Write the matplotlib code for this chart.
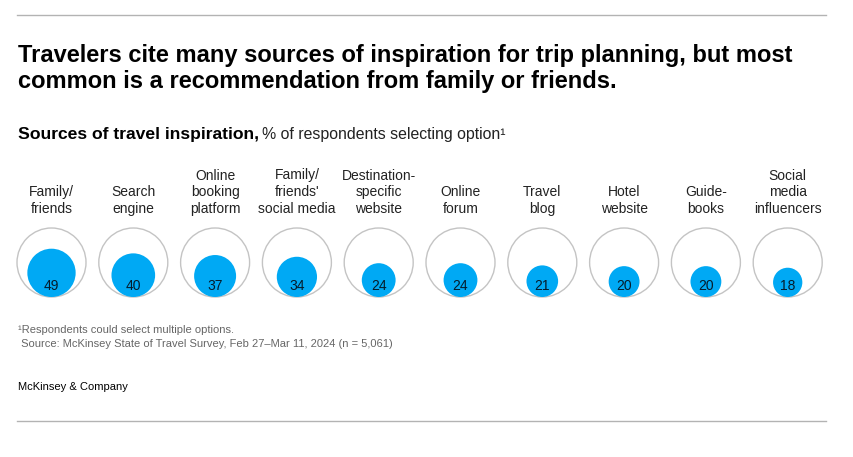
import numpy as np
import matplotlib.pyplot as plt
import matplotlib.patches as mpatches

plt.rcParams['font.family'] = ['Liberation Sans', 'DejaVu Sans']

categories = ['Family/\nfriends', 'Search\nengine', 'Online\nbooking\nplatform',
              "Family/\nfriends'\nsocial media", 'Destination-\nspecific\nwebsite',
              'Online\nforum', 'Travel\nblog', 'Hotel\nwebsite', 'Guide-\nbooks',
              'Social\nmedia\ninfluencers']
values = [49, 40, 37, 34, 24, 24, 21, 20, 20, 18]

title_lines = ['Travelers cite many sources of inspiration for trip planning, but most',
               'common is a recommendation from family or friends.']
sub_bold = 'Sources of travel inspiration,'
sub_rest = '% of respondents selecting option¹'
footnote = '¹Respondents could select multiple options.'
source = ' Source: McKinsey State of Travel Survey, Feb 27\u2013Mar 11, 2024 (n = 5,061)'

blue = '#00a9f4'
navy = '#051c2c'

W, H = 854, 457
fig = plt.figure(figsize=(W / 100, H / 100), dpi=100)
ax = fig.add_axes([0, 0, 1, 1])
ax.set_xlim(0, W)
ax.set_ylim(H, 0)
ax.set_aspect('equal')
ax.axis('off')


def right_edge(t):
    fig.canvas.draw()
    bb = t.get_window_extent()
    return ax.transData.inverted().transform((bb.x1, bb.y0))[0]


# rules
ax.plot([17, 826], [15, 15], color='#b3b3b3', lw=1)
ax.plot([17, 826], [421, 421], color='#b3b3b3', lw=1)

ax.text(18, 62, title_lines[0], fontsize=17, fontweight='bold', color='black',
        va='baseline', ha='left')
ax.text(18, 88, title_lines[1], fontsize=17, fontweight='bold', color='black',
        va='baseline', ha='left')

t = ax.text(18, 138.5, sub_bold, fontsize=12.6, fontweight='bold', color='black',
            va='baseline', ha='left')
x_end = right_edge(t)
ax.text(x_end + 3, 138.5, sub_rest, fontsize=11.4, color='#222222',
        va='baseline', ha='left')

R = 34.5
cy = 262.5
x0, step = 51.5, 81.8
for i, (lab, v) in enumerate(zip(categories, values)):
    cx = x0 + i * step
    ax.add_patch(mpatches.Circle((cx, cy), R, facecolor='none',
                                 edgecolor='#c4c4c4', lw=1))
    r = R * np.sqrt(v / 100)
    ax.add_patch(mpatches.Circle((cx, cy + R - r), r, facecolor=blue,
                                 edgecolor='none'))
    ax.text(cx, 285.5, str(v), fontsize=10, color=navy, ha='center', va='center')
    ax.text(cx, 216, lab, fontsize=10, color='#222222', ha='center', va='bottom',
            linespacing=1.25)

ax.text(18, 330, footnote, fontsize=8, color='#666666', ha='left', va='center')
ax.text(18, 344, source, fontsize=8, color='#666666', ha='left', va='center')
ax.text(18, 387, 'McKinsey & Company', fontsize=8, color='black', ha='left',
        va='center')

fig.savefig('out.png', dpi=100)
